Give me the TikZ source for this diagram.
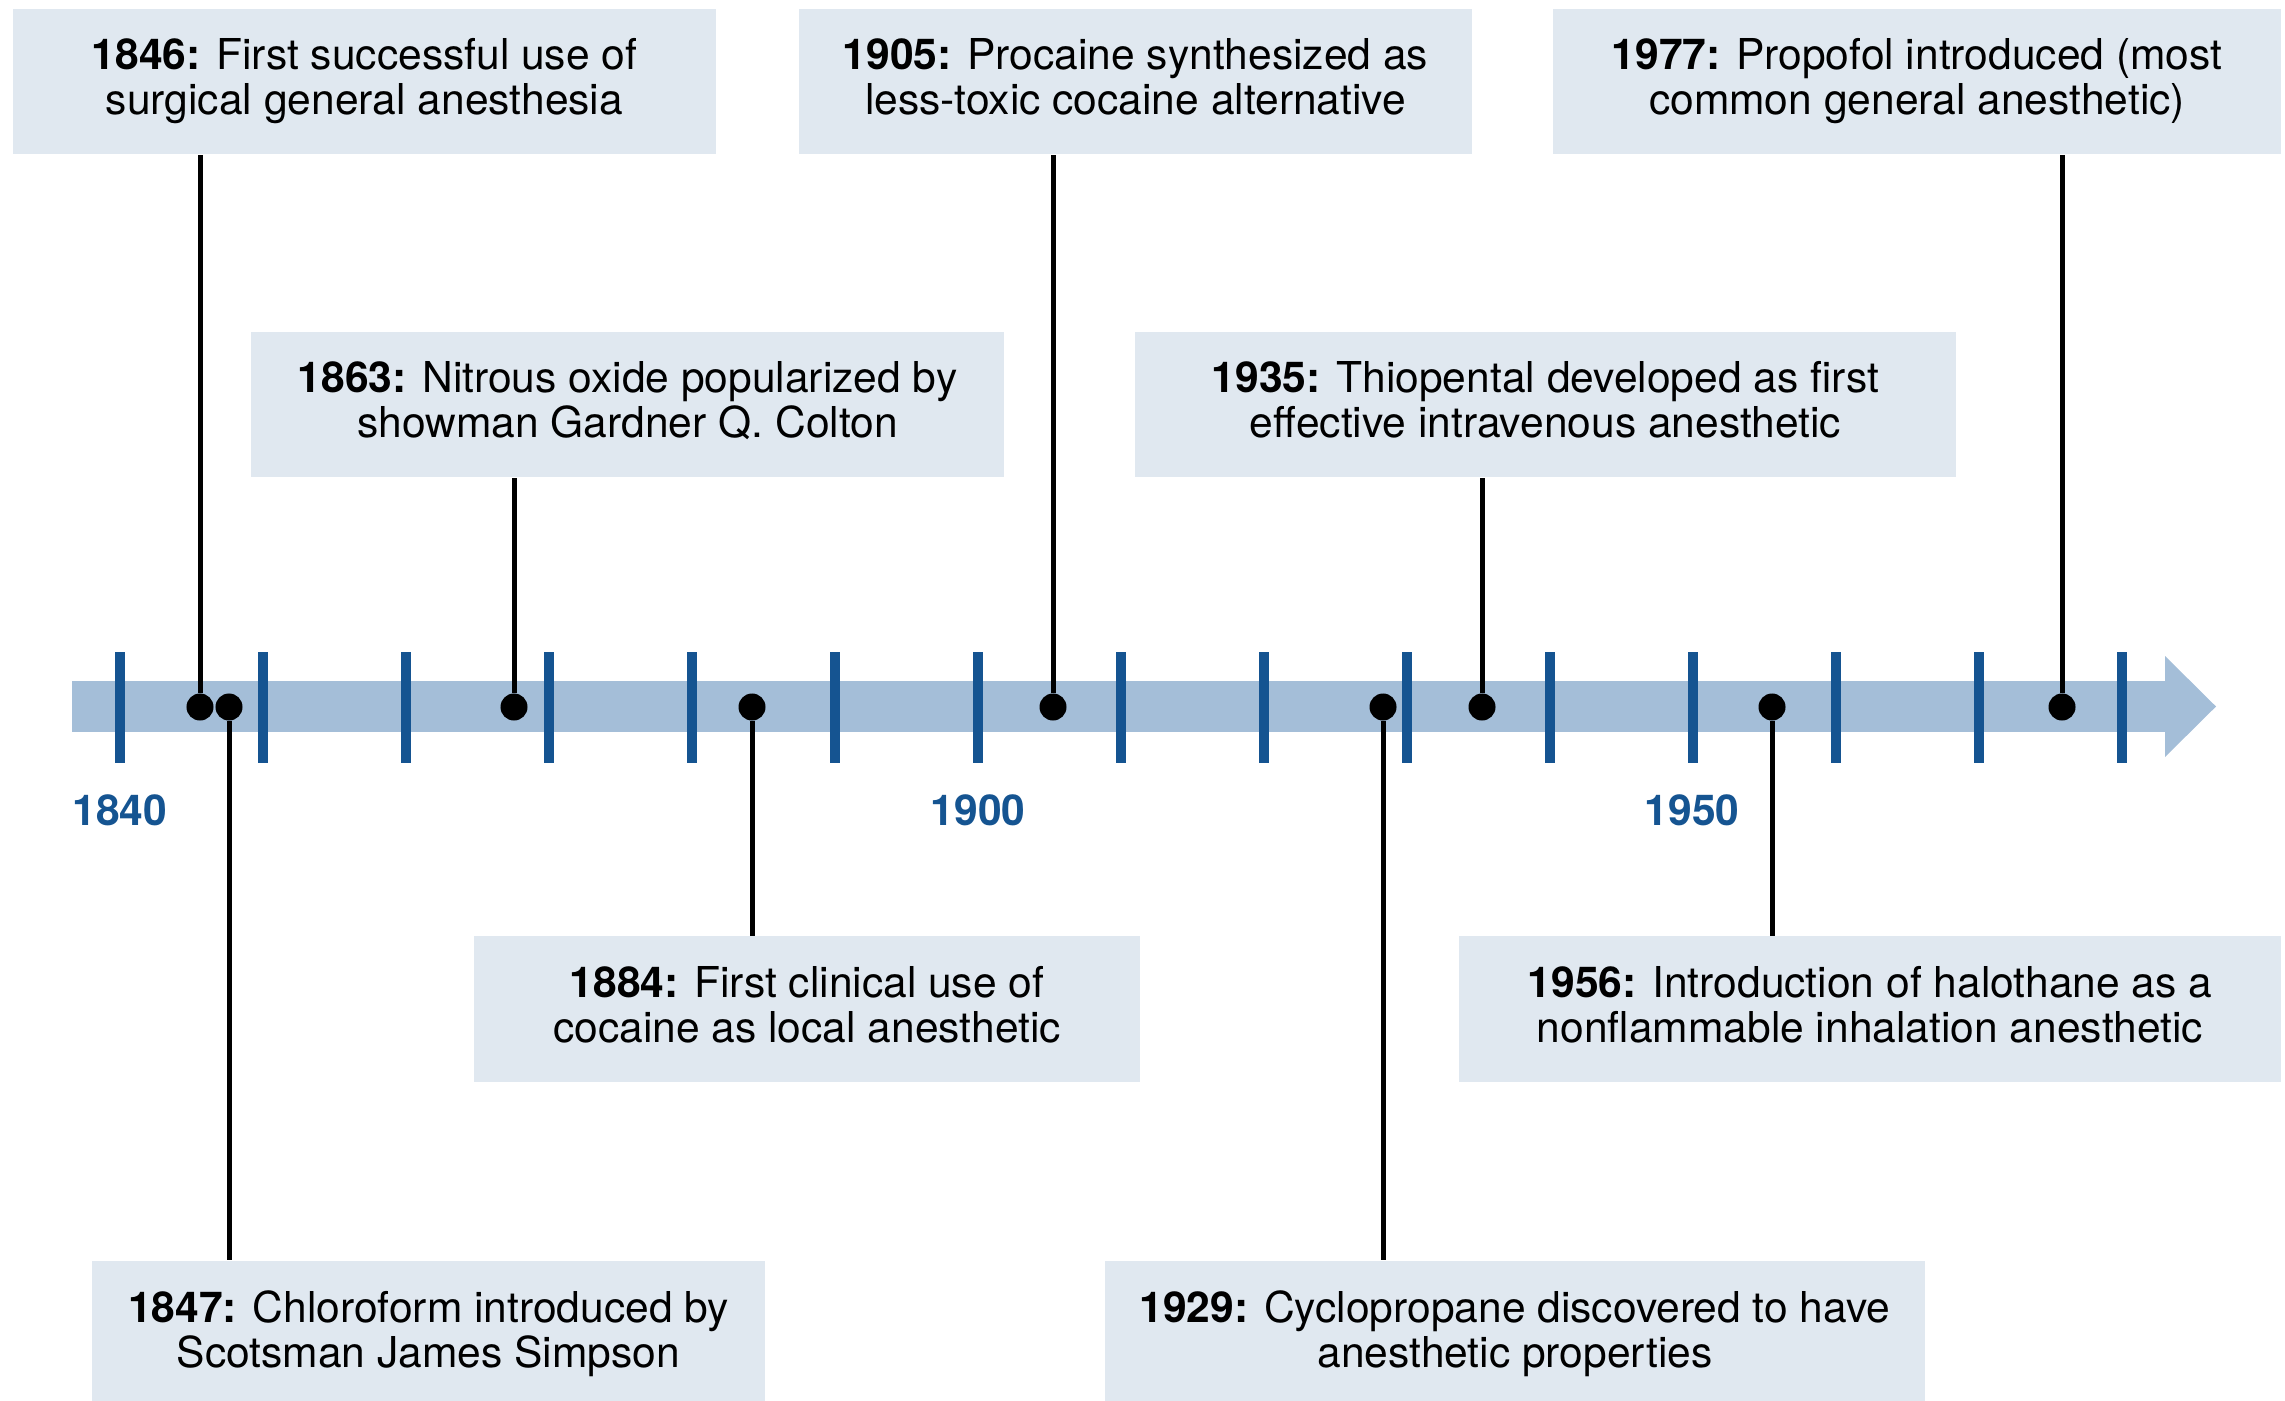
\documentclass[tikz,border=0pt]{standalone}
\usepackage{fontspec}
\setmainfont{TeX Gyre Heros}
\definecolor{bandblue}{HTML}{A4BED8}
\definecolor{tickblue}{HTML}{155491}
\definecolor{boxfill}{HTML}{E0E8F0}
\tikzset{
  evbox/.style={fill=boxfill, inner sep=0pt, minimum height=1.45cm, align=center,
    font=\fontsize{12.1}{12.8}\selectfont,
    execute at begin node={\vphantom{Ah}}, execute at end node={\vphantom{g}}},
  evdot/.style={circle, fill=black, inner sep=0pt, minimum size=0.27cm},
  conn/.style={line width=0.05cm, black},
  yearlab/.style={text=tickblue, font=\fontsize{12.1}{12.8}\selectfont\bfseries}
}
\begin{document}
\begin{tikzpicture}[x=0.01cm, y=-0.01cm]
			\useasboundingbox (0,0) rectangle (2285,1400);
			% time band with arrow head
			\fill[bandblue] (72,681) rectangle (2165,732);
			\fill[bandblue] (2165,656) -- (2216,706.5) -- (2165,757) -- cycle;
			\foreach \k in {0,...,14}{
				\draw [tickblue, line width=0.1cm] ({120+143*\k},652) -- ({120+143*\k},763);
			}
			\node[yearlab] (y1840) at (120,810) {1840};
			\node[yearlab] (y1900) at (978,810) {1900};
			\node[yearlab] (y1950) at (1692,810) {1950};

			% events on the band
			\node[evdot] (d1846) at (200,707) {};
			\node[evdot] (d1847) at (229,707) {};
			\node[evdot] (d1863) at (514,707) {};
			\node[evdot] (d1884) at (752,707) {};
			\node[evdot] (d1905) at (1053,707) {};
			\node[evdot] (d1929) at (1383,707) {};
			\node[evdot] (d1935) at (1482,707) {};
			\node[evdot] (d1956) at (1772,707) {};
			\node[evdot] (d1977) at (2062,707) {};

			% boxes above
			\node[evbox, minimum width=7.03cm] (b1846) at (364.5,81.5)
				{\textbf{1846:} First successful use of\\surgical general anesthesia};
			\node[evbox, minimum width=6.73cm] (b1905) at (1135.5,81.5)
				{\textbf{1905:} Procaine synthesized as\\less-toxic cocaine alternative};
			\node[evbox, minimum width=7.28cm] (b1977) at (1917,81.5)
				{\textbf{1977:} Propofol introduced (most\\common general anesthetic)};
			\node[evbox, minimum width=7.53cm] (b1863) at (627.5,404.5)
				{\textbf{1863:} Nitrous oxide popularized by\\showman Gardner Q. Colton};
			\node[evbox, minimum width=8.21cm] (b1935) at (1545.5,404.5)
				{\textbf{1935:} Thiopental developed as first\\effective intravenous anesthetic};
			% boxes below
			\node[evbox, minimum width=6.66cm] (b1884) at (807,1009)
				{\textbf{1884:} First clinical use of\\cocaine as local anesthetic};
			\node[evbox, minimum width=8.22cm] (b1956) at (1870,1009)
				{\textbf{1956:} Introduction of halothane as a\\nonflammable inhalation anesthetic};
			\node[evbox, minimum width=6.73cm] (b1847) at (428.5,1333.5)
				{\textbf{1847:} Chloroform introduced by\\Scotsman James Simpson};
			\node[evbox, minimum width=8.20cm] (b1929) at (1515,1333.5)
				{\textbf{1929:} Cyclopropane discovered to have\\anesthetic properties};

			\draw [conn] (d1846) -- (d1846 |- b1846.south);
			\draw [conn] (d1905) -- (d1905 |- b1905.south);
			\draw [conn] (d1977) -- (d1977 |- b1977.south);
			\draw [conn] (d1863) -- (d1863 |- b1863.south);
			\draw [conn] (d1935) -- (d1935 |- b1935.south);
			\draw [conn] (d1884) -- (d1884 |- b1884.north);
			\draw [conn] (d1956) -- (d1956 |- b1956.north);
			\draw [conn] (d1847) -- (d1847 |- b1847.north);
			\draw [conn] (d1929) -- (d1929 |- b1929.north);
\end{tikzpicture}
\end{document}
